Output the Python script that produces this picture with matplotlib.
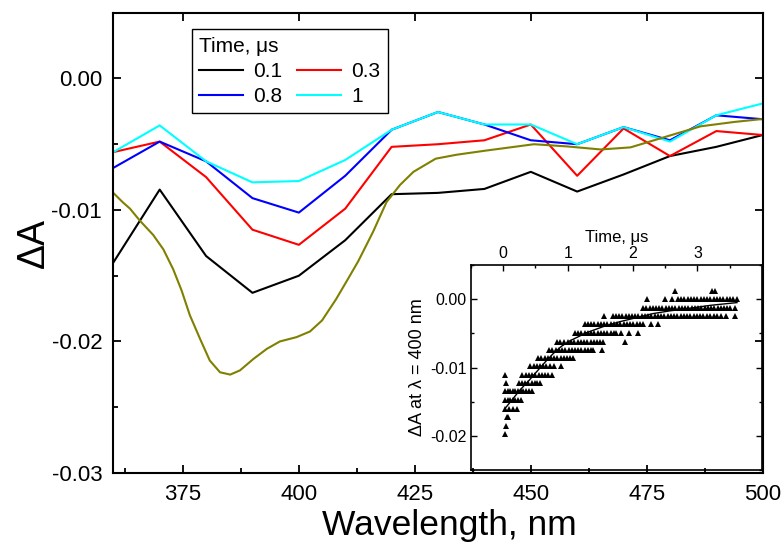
import matplotlib
matplotlib.use("Agg")
import matplotlib.pyplot as plt
from matplotlib.ticker import MultipleLocator, FormatStrFormatter

plt.rcParams["font.family"] = ["Liberation Sans", "DejaVu Sans"]
plt.rcParams["axes.unicode_minus"] = False

# transient spectra, delta A vs wavelength
wavelength = [360, 370, 380, 390, 400, 410, 420, 430, 440, 450, 460, 470, 480, 490, 500]
dA_t01 = [-0.0140, -0.00845, -0.0135, -0.0163, -0.0150, -0.0123, -0.0088, -0.0087,
          -0.0084, -0.0071, -0.0086, -0.0073, -0.0059, -0.0052, -0.0043]
dA_t03 = [-0.0056, -0.0048, -0.0075, -0.0115, -0.01265, -0.0099, -0.0052, -0.0050,
          -0.0047, -0.0035, -0.0074, -0.0038, -0.0059, -0.0040, -0.0043]
dA_t08 = [-0.0068, -0.0048, -0.0063, -0.0091, -0.0102, -0.0074, -0.0039, -0.00255,
          -0.0035, -0.0047, -0.0050, -0.0037, -0.0047, -0.0028, -0.0031]
dA_t1 = [-0.0056, -0.00357, -0.0063, -0.0079, -0.0078, -0.0062, -0.0039, -0.00255,
         -0.0035, -0.0035, -0.0050, -0.0037, -0.0048, -0.0028, -0.0019]
time_labels = ["0.1", "0.3", "0.8", "1"]

# olive reference spectrum
wl_ref = [360, 362.0, 363.6, 365.7, 368.6, 370.8, 372.9, 374.7, 376.5, 378.7, 380.8,
          383.0, 385.2, 387.3, 390.2, 393.1, 395.9, 399.5, 402.4, 405.0, 408.0, 410.5,
          412.8, 416.0, 418.9, 421.8, 424.7, 429.5, 434.0, 440.0, 450.7, 457.9, 465.1,
          471.5, 479.4, 486.6, 493.8, 500]
dA_ref = [-0.0087, -0.0094, -0.0099, -0.0108, -0.0119, -0.0130, -0.0145, -0.0161,
          -0.0180, -0.0198, -0.02145, -0.02234, -0.02252, -0.0222, -0.02133, -0.02056,
          -0.0200, -0.01967, -0.01924, -0.0184, -0.0168, -0.0153, -0.0139, -0.01166,
          -0.0094, -0.0081, -0.0071, -0.0061, -0.0058, -0.0055, -0.0050, -0.00517,
          -0.0054, -0.00524, -0.0044, -0.00364, -0.00331, -0.00308]

# inset kinetics at 400 nm: digitised levels and the times where points sit
kin_levels = [0.00123, 0.0, -0.00123, -0.00246, -0.0037, -0.0049, -0.0062, -0.0074,
              -0.0086, -0.0098, -0.0111, -0.0123, -0.0135, -0.0148, -0.0160, -0.0172,
              -0.0185, -0.0197]
kin_times = [
    [2.66, 3.22, 3.27],
    [2.22, 2.50, 2.61, 2.70, 2.75, 2.80, 2.85, 2.90, 2.95, 3.00, 3.05, 3.10, 3.15,
     3.20, 3.25, 3.30, 3.35, 3.40, 3.45, 3.50, 3.55, 3.61],
    [2.16, 2.21, 2.26, 2.31, 2.36, 2.41, 2.46, 2.51, 2.56, 2.61, 2.66, 2.71, 2.76,
     2.81, 2.86, 2.91, 2.96, 3.01, 3.06, 3.11, 3.16, 3.21, 3.26, 3.31, 3.36, 3.41,
     3.46, 3.51, 3.58],
    [1.56, 1.69, 1.74, 1.79, 1.84, 1.89, 1.94, 1.99, 2.04, 2.09, 2.14, 2.19, 2.24,
     2.29, 2.34, 2.39, 2.44, 2.49, 2.54, 2.59, 2.64, 2.69, 2.74, 2.79, 2.84, 2.89,
     2.94, 2.99, 3.04, 3.09, 3.14, 3.19, 3.25, 3.30, 3.37, 3.44, 3.58],
    [1.26, 1.31, 1.36, 1.41, 1.46, 1.51, 1.56, 1.61, 1.66, 1.71, 1.76, 1.81, 1.86,
     1.91, 1.96, 2.01, 2.06, 2.11, 2.16, 2.29, 2.39],
    [1.11, 1.16, 1.21, 1.26, 1.31, 1.36, 1.41, 1.46, 1.51, 1.56, 1.61, 1.66, 1.71,
     1.75, 1.82, 1.95, 2.08],
    [0.83, 0.88, 0.94, 1.00, 1.05, 1.10, 1.15, 1.20, 1.25, 1.30, 1.35, 1.40, 1.45,
     1.50, 1.54, 1.88],
    [0.71, 0.76, 0.81, 0.86, 0.91, 0.96, 1.01, 1.06, 1.11, 1.16, 1.21, 1.26, 1.31,
     1.35, 1.39, 1.53],
    [0.54, 0.59, 0.64, 0.69, 0.74, 0.79, 0.84, 0.89, 0.94, 0.99, 1.04, 1.08],
    [0.42, 0.47, 0.52, 0.57, 0.62, 0.67, 0.72, 0.78, 0.89],
    [0.03, 0.30, 0.35, 0.40, 0.45, 0.50, 0.55, 0.60, 0.65, 0.70, 0.75],
    [0.05, 0.24, 0.29, 0.34, 0.39, 0.44, 0.49, 0.53, 0.57],
    [0.03, 0.07, 0.11, 0.15, 0.19, 0.23, 0.27, 0.31, 0.35, 0.40, 0.44],
    [0.03, 0.07, 0.11, 0.15, 0.19, 0.23, 0.28],
    [0.03, 0.09, 0.16, 0.22],
    [0.06, 0.08],
    [0.05],
    [0.03],
]
fit_t = [0.03, 0.15, 0.26, 0.40, 0.52, 0.65, 0.77, 0.90, 1.03, 1.29, 1.55, 1.80,
         2.06, 2.32, 2.58, 2.83, 3.20, 3.61]
fit_dA = [-0.0160, -0.0146, -0.0133, -0.0119, -0.0106, -0.0092, -0.0080, -0.0069,
          -0.0061, -0.0049, -0.0040, -0.0033, -0.0027, -0.0021, -0.0017, -0.0014,
          -0.0009, -0.0005]

fig = plt.figure(figsize=(7.83, 5.48), dpi=100)
ax = fig.add_axes([0.1447, 0.1369, 0.8294, 0.8399])

l1, = ax.plot(wavelength, dA_t01, color="black", lw=1.5, label=time_labels[0])
l2, = ax.plot(wavelength, dA_t03, color="#ff0000", lw=1.5, label=time_labels[1])
l3, = ax.plot(wavelength, dA_t08, color="#0000ff", lw=1.5, label=time_labels[2])
l4, = ax.plot(wavelength, dA_t1, color="#00ffff", lw=1.5, label=time_labels[3])
ax.plot(wl_ref, dA_ref, color="#808000", lw=1.5)

ax.set_xlim(360, 500)
ax.set_ylim(-0.03, 0.005)
ax.xaxis.set_major_locator(MultipleLocator(25))
ax.xaxis.set_minor_locator(MultipleLocator(12.5))
ax.yaxis.set_major_locator(MultipleLocator(0.01))
ax.yaxis.set_minor_locator(MultipleLocator(0.005))
ax.yaxis.set_major_formatter(FormatStrFormatter("%.2f"))
ax.tick_params(which="both", direction="in", width=1.3, labelsize=16, pad=8)
ax.tick_params(which="major", length=6, top=True, right=True)
ax.tick_params(which="minor", length=3.5)
for s in ax.spines.values():
    s.set_linewidth(1.5)
ax.set_xlabel("Wavelength, nm", fontsize=25.5, labelpad=3)
ax.xaxis.label.set_x(0.518)
ax.set_ylabel("ΔA", fontsize=27, labelpad=0)

leg = ax.legend(handles=[l1, l3, l2, l4], ncol=2, title="Time, μs",
                alignment="left", fontsize=15, title_fontsize=15,
                loc="upper left", bbox_to_anchor=(0.121, 0.964),
                borderaxespad=0, fancybox=False, framealpha=1,
                edgecolor="black", handlelength=2.1, columnspacing=0.7,
                handletextpad=0.5, labelspacing=0.3, borderpad=0.35)
leg.get_frame().set_linewidth(1.0)

# inset
axin = fig.add_axes([0.6011, 0.1423, 0.3724, 0.3741])
axin.set_facecolor("none")
for lvl, times in zip(kin_levels, kin_times):
    axin.plot(times, [lvl] * len(times), linestyle="none", marker="^",
              color="black", markersize=3.8, markeredgewidth=0)
axin.plot(fit_t, fit_dA, color="black", lw=1.0)
axin.set_xlim(-0.5, 4.0)
axin.set_ylim(-0.025, 0.005)
axin.set_xticks([0, 1, 2, 3])
axin.xaxis.set_minor_locator(MultipleLocator(0.5))
axin.yaxis.set_major_locator(MultipleLocator(0.01))
axin.yaxis.set_minor_locator(MultipleLocator(0.005))
axin.yaxis.set_major_formatter(FormatStrFormatter("%.2f"))
axin.xaxis.tick_top()
axin.xaxis.set_label_position("top")
axin.tick_params(which="both", direction="in", width=1.0, labelsize=11.5, pad=3,
                 top=True, bottom=False, right=True, left=True)
axin.tick_params(which="major", length=4)
axin.tick_params(which="minor", length=2.5)
for s in axin.spines.values():
    s.set_linewidth(1.2)
axin.set_xlabel("Time, μs", fontsize=12, labelpad=3)
axin.set_ylabel("ΔA at λ = 400 nm", fontsize=13, labelpad=3)

fig.savefig("out.png", dpi=100)
